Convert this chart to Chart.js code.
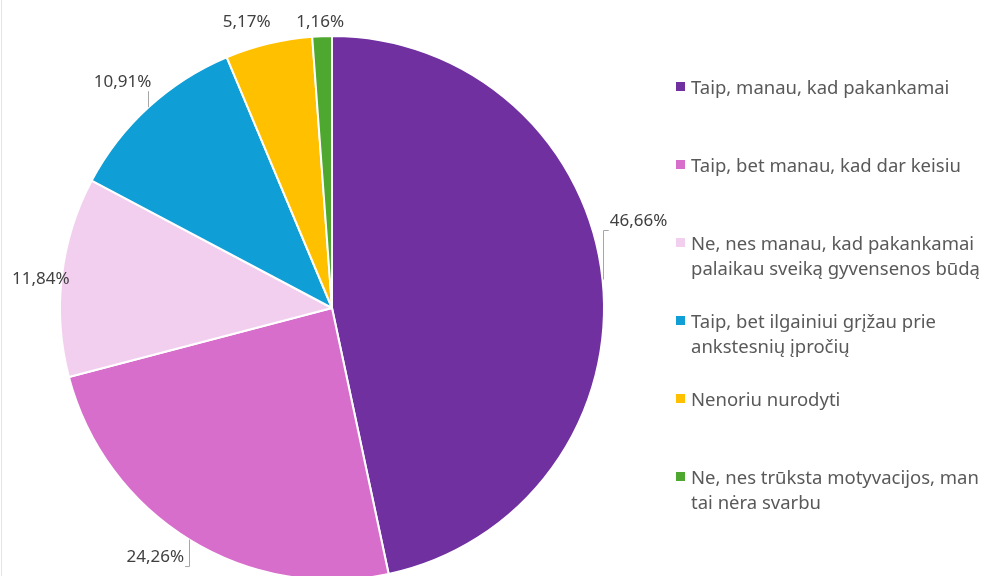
<!DOCTYPE html>
<html>
<head>
<meta charset="utf-8">
<script src="https://cdn.jsdelivr.net/npm/chart.js@4.4.1/dist/chart.umd.min.js"></script>
<style>
  html, body { margin: 0; padding: 0; background: #fff; overflow: hidden; }
  #wrap { position: relative; width: 986px; height: 576px; }
  #wrap::before {
    content: ""; position: absolute; left: 1px; top: 0; width: 1px; height: 576px;
    background: #e4e4e4; z-index: 1;
  }
  #chart { position: absolute; left: 0; top: 0; }
  #legend {
    position: absolute; left: 676px; top: 74px;
    font-family: "Noto Sans", sans-serif; font-size: 18.5px; color: #595959;
  }
  .item { height: 78px; display: flex; align-items: flex-start; }
  .box { width: 9px; height: 9px; margin-top: 8px; margin-right: 6px; flex: none; }
  .txt { line-height: 25px; white-space: nowrap; }
</style>
</head>
<body>
<div id="wrap">
  <canvas id="chart" width="986" height="576"></canvas>
  <div id="legend"></div>
</div>
<script>
/* ══════════════════════════════════════
   DATA
══════════════════════════════════════ */
const categories = [
  ["Taip, manau, kad pakankamai"],
  ["Taip, bet manau, kad dar keisiu"],
  ["Ne, nes manau, kad pakankamai", "palaikau sveiką gyvensenos būdą"],
  ["Taip, bet ilgainiui grįžau prie", "ankstesnių įpročių"],
  ["Nenoriu nurodyti"],
  ["Ne, nes trūksta motyvacijos, man", "tai nėra svarbu"],
];

const shares = [46.66, 24.26, 11.84, 10.91, 5.17, 1.16];

const sliceColors = ["#7030A0", "#D86ECC", "#F2CEEF", "#0F9ED5", "#FFC000", "#4EA72E"];

/* ══════════════════════════════════════
   LABEL PLACEMENT (offset from slice edge, px)
══════════════════════════════════════ */
const labelShift = [[36, -58], [-34, 18], [-21, 3], [-26, -25], [-22, -21], [-2, -14]];
const hasLeader = [true, true, false, true, false, false];

function pct(v) {
  return v.toFixed(2).replace(".", ",") + "%";
}

/* ══════════════════════════════════════
   PERCENT LABELS PLUGIN
══════════════════════════════════════ */
const pctLabels = {
  id: "pctLabels",
  afterDatasetsDraw(chart) {
    const { ctx } = chart;
    const arcs = chart.getDatasetMeta(0).data;
    ctx.save();
    ctx.font = '17px "Noto Sans"';
    ctx.textAlign = "center";
    ctx.textBaseline = "middle";

    arcs.forEach((arc, i) => {
      const { x, y, startAngle, endAngle, outerRadius } = arc.getProps(
        ["x", "y", "startAngle", "endAngle", "outerRadius"], true
      );
      const mid = (startAngle + endAngle) / 2;
      const ax = x + Math.cos(mid) * outerRadius;
      const ay = y + Math.sin(mid) * outerRadius;
      const tx = ax + labelShift[i][0];
      const ty = ay + labelShift[i][1];
      const text = pct(chart.data.datasets[0].data[i]);
      const w = ctx.measureText(text).width;

      if (hasLeader[i]) {
        const ly = ty + 9;
        ctx.strokeStyle = "#A6A6A6";
        ctx.lineWidth = 1;
        ctx.beginPath();
        ctx.moveTo(Math.round(ax) + 0.5, ay);
        ctx.lineTo(Math.round(ax) + 0.5, ly);
        if (ax < tx - w / 2) ctx.lineTo(tx - w / 2 - 1, ly);
        else if (ax > tx + w / 2) ctx.lineTo(tx + w / 2 + 1, ly);
        ctx.stroke();
      }

      ctx.fillStyle = "#404040";
      ctx.fillText(text, tx, ty);
    });
    ctx.restore();
  },
};

/* ══════════════════════════════════════
   CHART
══════════════════════════════════════ */
const chart = new Chart(document.getElementById("chart"), {
  type: "pie",
  data: {
    labels: categories,
    datasets: [
      {
        data: shares,
        backgroundColor: sliceColors,
        borderColor: "#ffffff",
        borderWidth: 2,
        radius: 272,
        clip: false,
      },
    ],
  },
  options: {
    responsive: false,
    animation: false,
    layout: { padding: { left: 0, right: 322, top: 40, bottom: 0 } },
    plugins: {
      legend: { display: false },
      tooltip: { enabled: false },
    },
  },
  plugins: [pctLabels],
});

/* ══════════════════════════════════════
   LEGEND
══════════════════════════════════════ */
document.getElementById("legend").innerHTML = chart.data.labels
  .map(
    (lines, i) => `
    <div class="item">
      <div class="box" style="background:${sliceColors[i]}"></div>
      <div class="txt">${lines.join("<br>")}</div>
    </div>`
  )
  .join("");
</script>
</body>
</html>
